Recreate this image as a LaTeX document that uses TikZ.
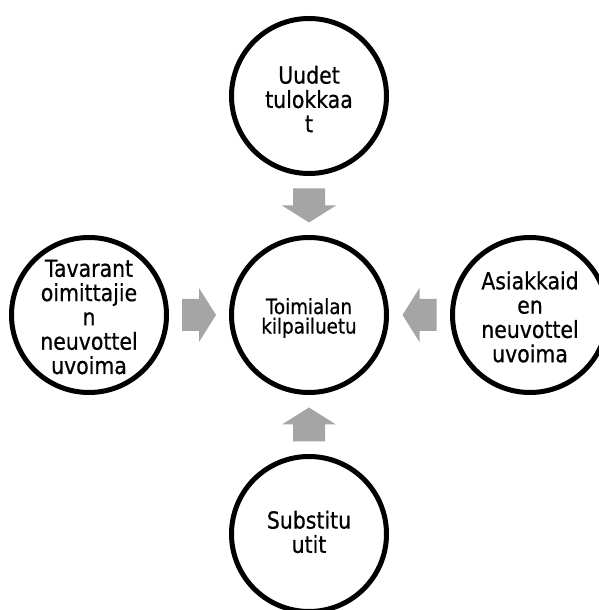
\documentclass[tikz,border=0pt]{standalone}
\usepackage{fontspec}
\setmainfont{DejaVu Sans}[FakeStretch=0.87, FakeBold=0.6]
\usetikzlibrary{calc}
\definecolor{arrowgray}{HTML}{A5A5A5}
\tikzset{
  x=1pt, y=1pt,
  ring/.style={circle, draw=black, line width=5pt, fill=white, minimum size=155pt, inner sep=0pt},
  bigtext/.style={align=center, inner sep=0pt, font=\fontsize{23.5}{24.3}\selectfont},
  smalltext/.style={align=center, inner sep=0pt, font=\fontsize{21}{19.5}\selectfont},
  blockarrow/.pic={
    \fill[arrowgray] (-17,-16) -- (0,-16) -- (0,-27) -- (17,0) -- (0,27) -- (0,16) -- (-17,16) -- cycle;
  }
}
\begin{document}
\begin{tikzpicture}
  \useasboundingbox (0,0) rectangle (599,610);
  \fill[white] (0,0) rectangle (599,610);
  \begin{scope}
    \clip (0,0) rectangle (599,610);
    % the five circles
    \node[ring] (core)   at (309,295) {};
    \node[ring] (entry)  at (309,514) {};
    \node[ring] (supply) at (89,295)  {};
    \node[ring] (buyers) at (530,295) {};
    \node[ring] (subst)  at (309,76)  {};
    % texts
    \node[smalltext] (coreT)   at ($(core)+(0,-3)$)   {Toimialan\\kilpailuetu};
    \node[bigtext]   (entryT)  at ($(entry)+(0,-3)$)  {Uudet\\tulokkaa\\t};
    \node[bigtext]   (supplyT) at ($(supply)+(0,-2)$) {Tavarant\\oimittajie\\n\\neuvottel\\uvoima};
    \node[bigtext]   (buyersT) at ($(buyers)+(0,-2)$) {Asiakkaid\\en\\neuvottel\\uvoima};
    \node[bigtext]   (substT)  at ($(subst)+(0,2)$)   {Substitu\\utit};
    % block arrows pointing at the centre circle
    \pic[rotate=-90] at ($(entry)!0.5!(core)$) {blockarrow};
    \pic[rotate=0]   at ($(supply)!0.5!(core)$) {blockarrow};
    \pic[rotate=180] at ($(buyers)!0.5!(core)$) {blockarrow};
    \pic[rotate=90]  at ($(subst)!0.5!(core)$) {blockarrow};
  \end{scope}
\end{tikzpicture}
\end{document}
